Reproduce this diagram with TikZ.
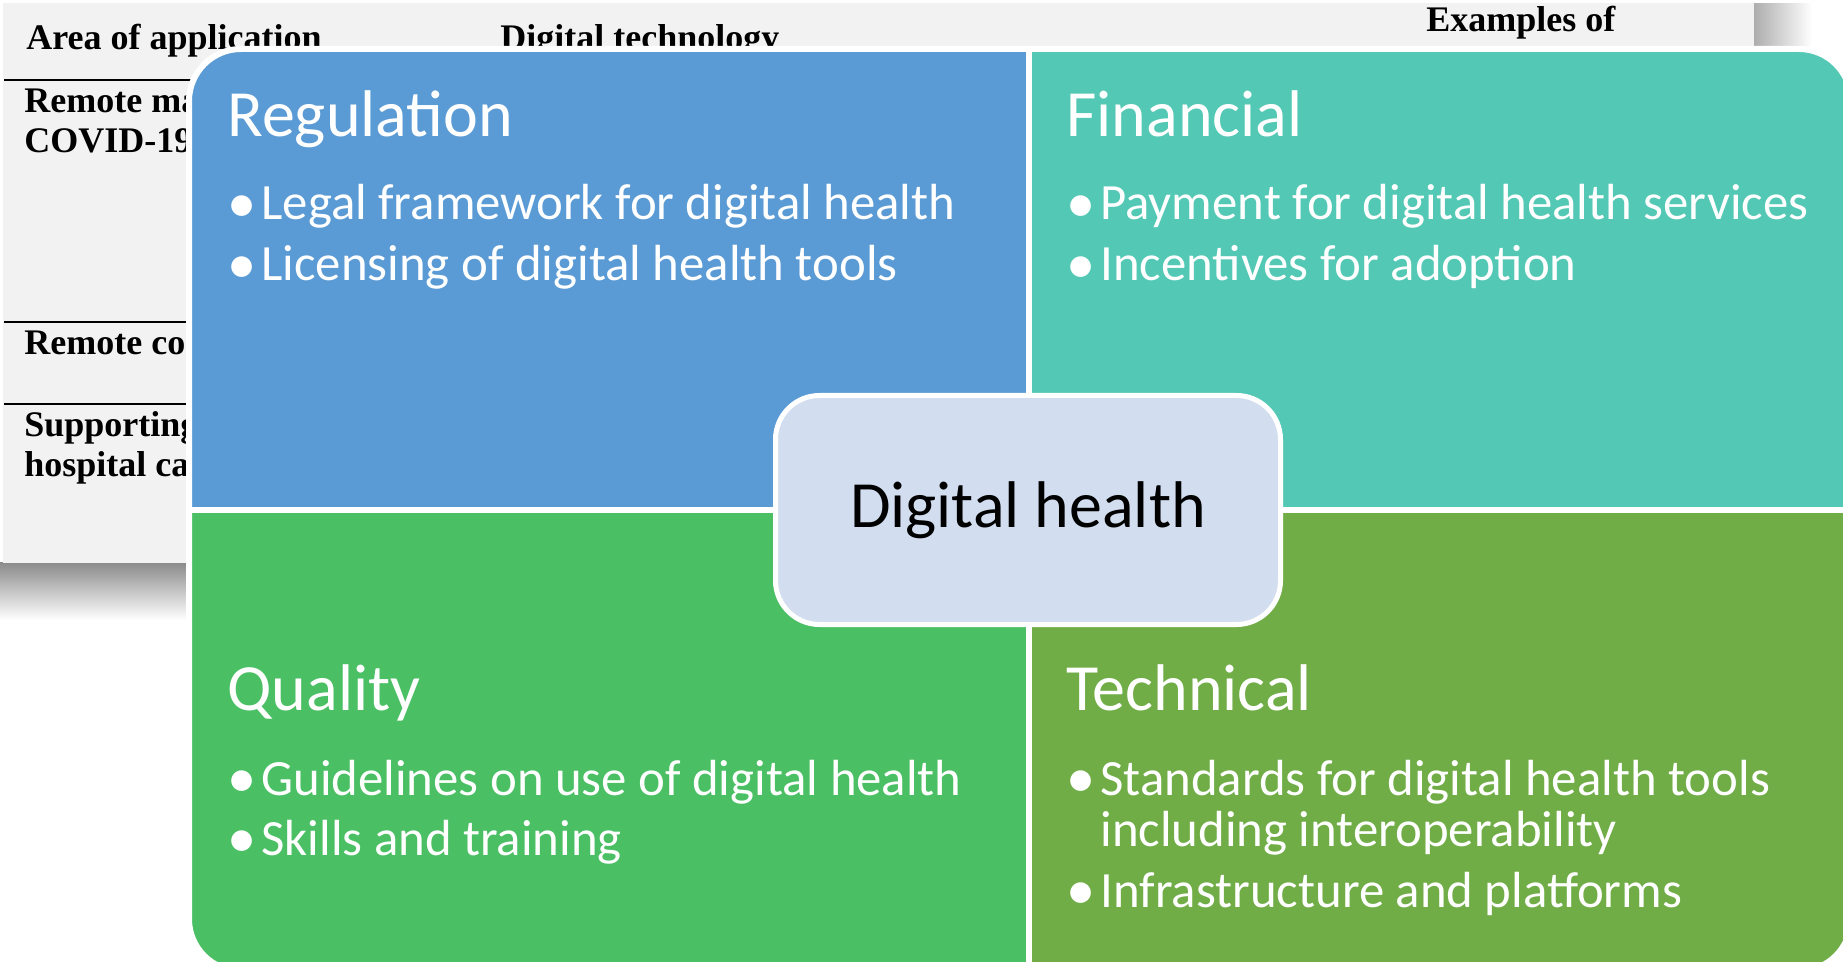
\documentclass[tikz,border=0pt]{standalone}
\usepackage{fontspec}
\setmainfont{Carlito}
\newfontfamily\tablefont{Liberation Serif}
\usetikzlibrary{positioning}
\definecolor{regblue}{HTML}{5B9BD5}
\definecolor{finteal}{HTML}{53C8B4}
\definecolor{qualgreen}{HTML}{4ABF64}
\definecolor{techgreen}{HTML}{70AD47}
\definecolor{hubfill}{HTML}{D2DEEF}
\definecolor{tablegray}{HTML}{F2F2F2}
\newcommand{\itemdot}{\makebox[14pt][l]{\hspace{-3pt}\raisebox{-1.3pt}{\scalebox{1.15}{\textbullet}}}}

\begin{document}
\begin{tikzpicture}[x=0.5pt, y=-0.5pt,
  head/.style={anchor=base west, inner sep=0pt, font=\tablefont\bfseries\fontsize{18}{18}\selectfont},
  title/.style={anchor=base west, inner sep=0pt, text=white, font=\fontsize{33}{33}\selectfont},
  item/.style={anchor=base west, inner sep=0pt, text=white, font=\fontsize{25.4}{25.4}\selectfont},
  hub/.style={draw=white, line width=2.5pt, fill=hubfill, rounded corners=22pt,
    minimum width=252.5pt, minimum height=114.5pt, font=\fontsize{33}{33}\selectfont}]

\useasboundingbox (0,0) rectangle (1843,962);

% the table lying underneath
\shade[top color=black!45, bottom color=white] (0,563) rectangle (200,620);
\shade[left color=black!32, right color=white] (1754,4) rectangle (1812,50);
\fill[tablegray] (3,3) rectangle (1754,563);
\draw[line width=0.8pt] (4,80) -- (200,80) (4,322) -- (200,322) (4,404) -- (200,404);
\node[head] (area) at (26,50) {Area of application};
\node[head] (techcol) at (500,50) {Digital technology};
\node[head] (examples) at (1426,32) {Examples of};
\node[head] (rowa) at (24,113) {Remote ma};
\node[head] (rowb) at (24,153) {COVID-19};
\node[head] (rowc) at (24,355) {Remote co};
\node[head] (rowd) at (24,437) {Supporting};
\node[head] (rowe) at (24,477) {hospital ca};

% four quadrants
\foreach \col/\xa/\ya/\xb/\yb in {regblue/189/49/1029/510, finteal/1029/49/1851/510,
    qualgreen/189/510/1029/971, techgreen/1029/510/1851/971}{
  \begin{scope}
    \clip (\xa,\ya) rectangle (\xb,\yb);
    \fill[\col, rounded corners=26pt] (189,49) rectangle (1851,971);
  \end{scope}
}
\draw[white, line width=3pt] (1029,49) -- (1029,971) (189,510) -- (1851,510);
\draw[white, line width=3pt, rounded corners=26pt] (189,49) rectangle (1851,971);

\node[title] (reg) at (227,137) {Regulation};
\node[item] (reg1) at (233,220) {\itemdot Legal framework for digital health};
\node[item] (reg2) at (233,281) {\itemdot Licensing of digital health tools};

\node[title] (fin) at (1066,137) {Financial};
\node[item] (fin1) at (1072,220) {\itemdot Payment for digital health services};
\node[item] (fin2) at (1072,281) {\itemdot Incentives for adoption};

\node[title] (qual) at (227,710) {Quality};
\node[item] (qual1) at (233,795) {\itemdot Guidelines on use of digital health};
\node[item] (qual2) at (233,855) {\itemdot Skills and training};

\node[title] (tech) at (1066,710) {Technical};
\node[item] (tech1) at (1072,795) {\itemdot Standards for digital health tools};
\node[item] (tech1b) at (1100,846) {including interoperability};
\node[item] (tech2) at (1072,907) {\itemdot Infrastructure and platforms};

\node[hub] (hub) at (1028,510) {Digital health};
\end{tikzpicture}
\end{document}
